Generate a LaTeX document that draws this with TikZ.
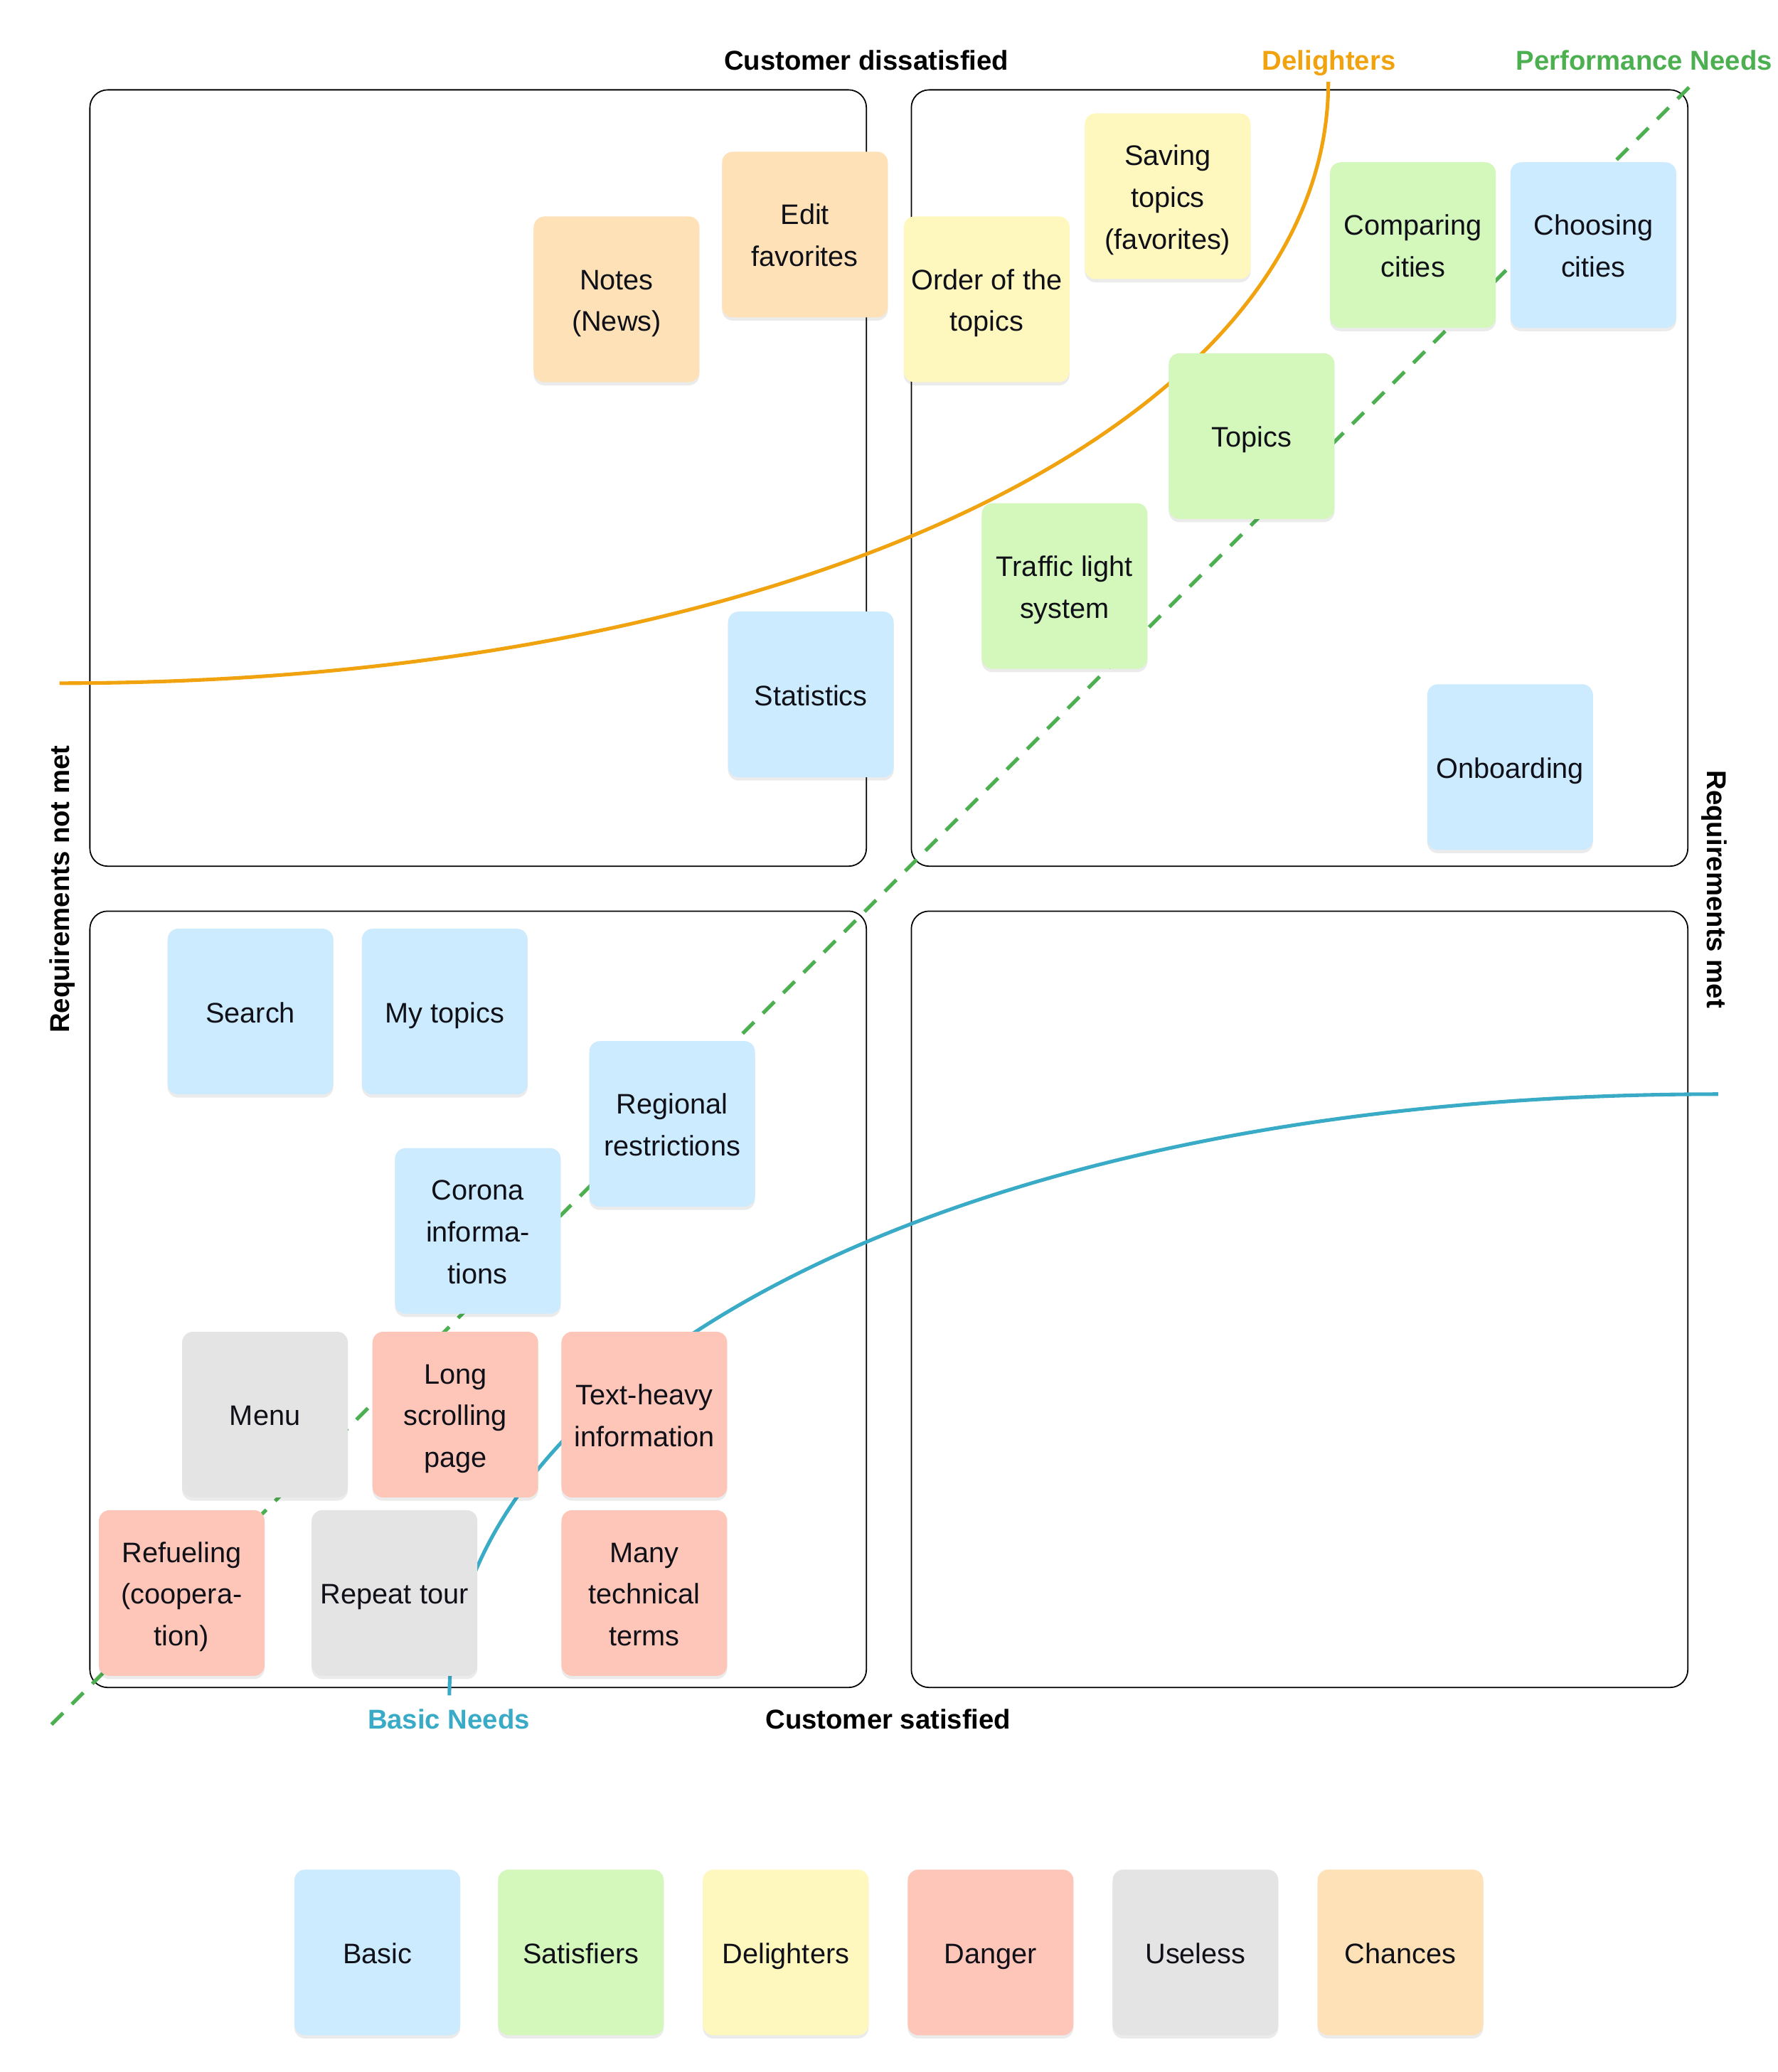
\documentclass[tikz,border=0pt]{standalone}
\usepackage{fontspec}
\setmainfont{Liberation Sans}
\usetikzlibrary{shadows}
\definecolor{cBlue}{HTML}{CCEBFE}
\definecolor{cGreen}{HTML}{D4F7BB}
\definecolor{cYellow}{HTML}{FEF8BF}
\definecolor{cSalmon}{HTML}{FEC6B8}
\definecolor{cGray}{HTML}{E4E4E4}
\definecolor{cOrange}{HTML}{FEE1B6}
\definecolor{lOrange}{HTML}{F0A30E}
\definecolor{lGreen}{HTML}{4CAF50}
\definecolor{lTeal}{HTML}{3AABC6}
\definecolor{noteText}{HTML}{101018}
\newcommand\notetop{\rule{0pt}{13.8pt}}
\newcommand\notebot{\rule[-5pt]{0pt}{5pt}}
\begin{document}
\begin{tikzpicture}[x=0.018587cm,y=-0.018587cm,
  quad/.style={draw=black,line width=0.5pt,rounded corners=0.25cm},
  note/.style={rounded corners=0.15cm,minimum width=2.33cm,minimum height=2.33cm,
    inner sep=0pt,align=center,text=noteText,font=\fontsize{11.3}{16.7}\selectfont,
    drop shadow={shadow xshift=0pt,shadow yshift=-1.3pt,opacity=0.08,fill=black}},
  axislabel/.style={font=\bfseries\fontsize{10.9}{13}\selectfont,inner sep=0pt},
  curve/.style={line width=1.45pt}]
\useasboundingbox (0,0) rectangle (1345,1568);

% quadrants
\draw[quad] (68,68) rectangle (655.5,655.5);
\draw[quad] (689.5,68) rectangle (1277,655.5);
\draw[quad] (68,689.5) rectangle (655.5,1277);
\draw[quad] (689.5,689.5) rectangle (1277,1277);

% curves
\coordinate (dA) at (45,517);
\coordinate (dB) at (1005,62);
\draw[curve,lOrange] (dA) .. controls (600,517) and (1005,320) .. (dB);
\coordinate (pA) at (39,1305);
\coordinate (pB) at (1281.5,62.5);
\draw[curve,lGreen,dash pattern=on 6.5pt off 5pt] (pA) -- (pB);
\coordinate (bA) at (340,1283);
\coordinate (bB) at (1300,828);
\draw[curve,lTeal] (bA) .. controls (340,1050) and (700,828) .. (bB);

% sticky notes
\node[note,fill=cOrange] (notes) at (466.5,226.5) {\notetop Notes\\(News)\notebot};
\node[note,fill=cOrange] (editfav) at (609,177.5) {\notetop Edit\\favorites\notebot};
\node[note,fill=cYellow] (order) at (746.5,226.5) {\notetop Order of the\\topics\notebot};
\node[note,fill=cYellow] (saving) at (883.5,148.5) {\notetop Saving\\topics\\(favorites)\notebot};
\node[note,fill=cGreen] (comparing) at (1069,185.5) {\notetop Comparing\\cities\notebot};
\node[note,fill=cBlue] (choosing) at (1205.5,185.5) {\notetop Choosing\\cities\notebot};
\node[note,fill=cGreen] (topics) at (947,330) {\notetop Topics\notebot};
\node[note,fill=cGreen] (traffic) at (805.5,443.5) {\notetop Traffic light\\system\notebot};
\node[note,fill=cBlue] (statistics) at (613.5,525.5) {\notetop Statistics\notebot};
\node[note,fill=cBlue] (onboarding) at (1142.5,580.5) {\notetop Onboarding\notebot};
\node[note,fill=cBlue] (search) at (189.5,765.5) {\notetop Search\notebot};
\node[note,fill=cBlue] (mytopics) at (336.5,765.5) {\notetop My topics\notebot};
\node[note,fill=cBlue] (regional) at (508.5,850.5) {\notetop Regional\\restrictions\notebot};
\node[note,fill=cBlue] (corona) at (361.5,931.5) {\notetop Corona\\informa-\\tions\notebot};
\node[note,fill=cGray] (menu) at (200.5,1070.5) {\notetop Menu\notebot};
\node[note,fill=cSalmon] (longscroll) at (344.5,1070.5) {\notetop Long\\scrolling\\page\notebot};
\node[note,fill=cSalmon] (textheavy) at (487.5,1070.5) {\notetop Text-heavy\\information\notebot};
\node[note,fill=cSalmon] (refuel) at (137.5,1205.5) {\notetop Refueling\\(coopera-\\tion)\notebot};
\node[note,fill=cGray] (repeat) at (298.5,1205.5) {\notetop Repeat tour\notebot};
\node[note,fill=cSalmon] (many) at (487.5,1205.5) {\notetop Many\\technical\\terms\notebot};

% legend
\node[note,fill=cBlue] (lgBasic) at (285.5,1477.5) {\notetop Basic\notebot};
\node[note,fill=cGreen] (lgSat) at (439.5,1477.5) {\notetop Satisfiers\notebot};
\node[note,fill=cYellow] (lgDel) at (594.5,1477.5) {\notetop Delighters\notebot};
\node[note,fill=cSalmon] (lgDanger) at (749.5,1477.5) {\notetop Danger\notebot};
\node[note,fill=cGray] (lgUseless) at (904.5,1477.5) {\notetop Useless\notebot};
\node[note,fill=cOrange] (lgChances) at (1059.5,1477.5) {\notetop Chances\notebot};

% labels
\node[axislabel,anchor=base] (lDiss) at (655.5,53.2) {Customer dissatisfied};
\node[axislabel,anchor=base,text=lOrange] (lDel) at (1005.5,53.2) {Delighters};
\node[axislabel,anchor=base,text=lGreen] (lPerf) at (1244,53.2) {Performance Needs};
\node[axislabel,anchor=base] (lSat) at (672,1308.5) {Customer satisfied};
\node[axislabel,anchor=base,text=lTeal] (lBasic) at (339.5,1308.5) {Basic Needs};
\node[axislabel,anchor=mid,rotate=90] (lNotMet) at (47.7,673) {Requirements not met};
\node[axislabel,anchor=mid,rotate=-90] (lMet) at (1296.5,673) {Requirements met};
\end{tikzpicture}
\end{document}
